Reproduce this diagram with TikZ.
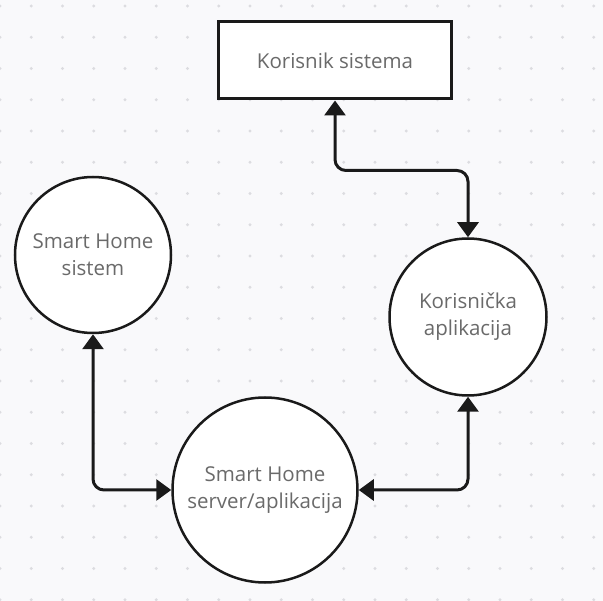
\documentclass[tikz,border=0pt]{standalone}
\usepackage{fontspec}
\setmainfont{Open Sans}
\usetikzlibrary{arrows.meta}

\definecolor{bgGray}{HTML}{F9F9FB}
\definecolor{dotGray}{HTML}{DCDCE0}
\definecolor{textGray}{HTML}{6A6A6A}
\definecolor{lineBlack}{HTML}{1A1A1A}

\tikzset{every picture/.style={x=1pt, y=-1pt},
        procCircle/.style={circle, draw=lineBlack, fill=white, line width=2.5pt, inner sep=0pt, align=center, text=textGray, font=\fontsize{20.5}{27}\selectfont},
        actorBox/.style={rectangle, draw=lineBlack, fill=white, line width=3pt, minimum width=233pt, minimum height=77pt, text=textGray, font=\fontsize{20.5}{27}\selectfont},
        flowArrow/.style={draw=lineBlack, line width=3pt, rounded corners=11pt, {Triangle[width=21pt,length=15pt]}-{Triangle[width=21pt,length=15pt]}}}

\begin{document}
\begin{tikzpicture}

% draw background and dot grid
\fill[bgGray] (0,0) rectangle (603,601);
\useasboundingbox (0,0) rectangle (603,601);

\foreach \i in {0,...,19} {
    \foreach \j in {0,...,19} {
        \fill[dotGray] (\i*31.25, 6+\j*31.25) circle (1.6pt);
    }
}

% draw nodes
\node[actorBox] (korisnik) at (335,60.5) {Korisnik sistema};
\node[procCircle, minimum size=156pt] (sistem) at (93,255) {Smart Home\\sistem};
\node[procCircle, minimum size=157pt] (app) at (468,317) {Korisnička\\aplikacija};
\node[procCircle, minimum size=185pt] (server) at (265,490) {Smart Home\\server/aplikacija};

% draw necessary paths
\draw[flowArrow] (korisnik.south) -- ++(0,70) -| (app.north);
\draw[flowArrow] (sistem.south) |- (server.west);
\draw[flowArrow] (server.east) -| (app.south);

\end{tikzpicture}
\end{document}
